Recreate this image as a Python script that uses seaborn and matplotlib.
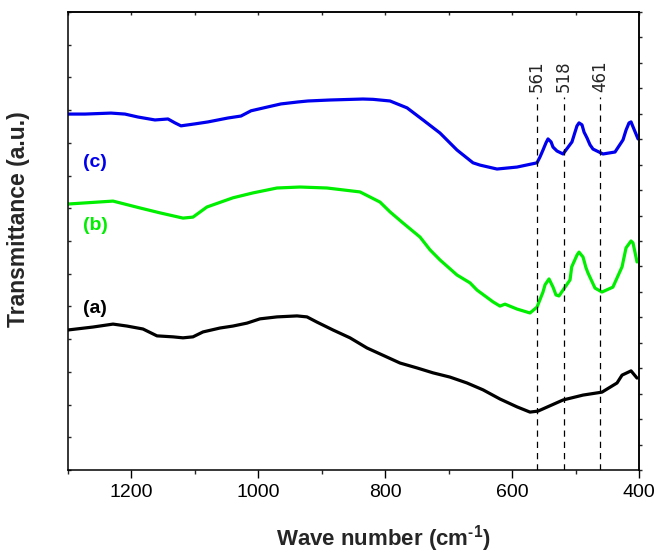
import numpy as np
import pandas as pd
import matplotlib
matplotlib.use("Agg")
import matplotlib.pyplot as plt
from matplotlib.ticker import MultipleLocator, NullFormatter
import seaborn as sns

# FTIR spectra (wave number in cm^-1, transmittance in arbitrary units, stacked)
wn_a = [1300, 1260.6, 1229, 1207, 1181.8, 1159.7, 1134.5, 1118.7, 1103, 1087.2,
        1060.4, 1040, 1017.8, 997.4, 970.6, 939, 923.3, 907.5, 882.3, 855.5,
        828.7, 776.7, 749.9, 724.7, 697.9, 671.1, 645.8, 619.1, 592.3, 571.8,
        559.2, 519.7, 488.2, 458.3, 434.6, 426.7, 412.5, 403.1]
t_a = [4.28, 4.37, 4.46, 4.40, 4.31, 4.10, 4.07, 4.04, 4.07, 4.22,
       4.34, 4.40, 4.49, 4.62, 4.68, 4.71, 4.68, 4.52, 4.28, 4.04,
       3.73, 3.27, 3.12, 2.97, 2.84, 2.66, 2.45, 2.17, 1.93, 1.77,
       1.80, 2.14, 2.29, 2.38, 2.66, 2.90, 3.03, 2.81]

wn_b = [1300, 1229, 1186.5, 1155, 1118.7, 1103, 1080.9, 1040, 1008.4, 970.6, 934.3,
        891.7, 839.7, 808.2, 792.4, 771.9, 745.1, 729.4, 713.6, 686.8, 666.3,
        655.3, 630.1, 619.1, 611.2, 592.3, 571.8, 560.7, 551.3, 548.1, 541.8,
        535.5, 530.8, 526.1, 508.7, 506, 497.7, 494.5, 488.2, 483.5, 480.3,
        469.3, 458.3, 441.1, 426.7, 420.4, 412.5, 409.4, 403.1]
t_b = [8.13, 8.22, 8.01, 7.86, 7.70, 7.73, 8.04, 8.32, 8.47, 8.62, 8.65,
       8.62, 8.50, 8.19, 7.89, 7.55, 7.12, 6.73, 6.42, 5.96, 5.72,
       5.50, 5.14, 5.01, 5.07, 4.92, 4.80, 4.98, 5.44, 5.66, 5.84,
       5.59, 5.35, 5.32, 5.81, 6.21, 6.57, 6.66, 6.51, 6.18, 6.02,
       5.56, 5.44, 5.59, 6.21, 6.79, 7.00, 6.94, 6.36]

wn_c = [1300, 1273.2, 1232.2, 1210.2, 1189.7, 1162.9, 1142.4, 1131.3, 1121.9, 1099.8,
        1079.3, 1047.8, 1027.3, 1011.5, 984.7, 964.3, 937.5, 921.7, 887, 835,
        819.2, 792.4, 765.6, 740.4, 713.6, 686.8, 661.6, 650.6, 623.8, 592.3,
        560.7, 556, 551.3, 546.6, 543.4, 538.6, 535.5, 529.2, 519.7, 505.6,
        500.8, 497.7, 494.5, 489.8, 486.6, 481.9, 477.2, 472.5, 456.7, 437.8,
        425.2, 420.4, 415.7, 412.5, 409.4, 401.5]
t_c = [10.88, 10.88, 10.91, 10.88, 10.79, 10.70, 10.73, 10.61, 10.52, 10.58,
       10.64, 10.76, 10.82, 10.98, 11.10, 11.19, 11.25, 11.28, 11.31, 11.34,
       11.33, 11.28, 11.07, 10.70, 10.30, 9.78, 9.39, 9.32, 9.20, 9.26,
       9.39, 9.57, 9.78, 10.00, 10.12, 10.03, 9.87, 9.75, 9.66, 10.03,
       10.33, 10.52, 10.61, 10.55, 10.33, 10.15, 9.94, 9.81, 9.66, 9.72,
       10.09, 10.39, 10.61, 10.64, 10.49, 10.12]

samples = ["(a)", "(b)", "(c)"]
colors = ["#000000", "#00ee00", "#0000ee"]
label_wn = [1257, 1257, 1257]
label_t = [4.95, 7.46, 9.39]

band_wn = [561, 518, 461]
band_labels = ["561", "518", "461"]

frames = []
for name, wn, t in zip(samples, [wn_a, wn_b, wn_c], [t_a, t_b, t_c]):
    frames.append(pd.DataFrame({"wn": wn, "T": t, "sample": name}))
df = pd.concat(frames, ignore_index=True)

sns.set_style("white")
plt.rcParams["font.family"] = ["Liberation Sans", "DejaVu Sans"]
plt.rcParams["mathtext.fontset"] = "custom"
plt.rcParams["mathtext.rm"] = "Liberation Sans:bold"
plt.rcParams["mathtext.bf"] = "Liberation Sans:bold"

fig = plt.figure(figsize=(6.58, 5.53), dpi=100)
ax = fig.add_axes([0.1033, 0.1501, 0.8678, 0.8282])

sns.lineplot(data=df, x="wn", y="T", hue="sample", hue_order=samples,
             palette=dict(zip(samples, colors)), estimator=None,
             linewidth=2.3, legend=False, ax=ax)

# marked absorption bands
top_line = 11.4
ax.vlines(band_wn, 0, top_line, colors="black", linewidth=0.9,
          linestyles=(0, (5, 4)))
for w, lab in zip(band_wn, band_labels):
    ax.text(w, top_line + 0.15, lab, rotation=90, ha="center", va="bottom",
            fontsize=12, family="DejaVu Sans")

for name, c, xw, yt in zip(samples, colors, label_wn, label_t):
    ax.text(xw, yt, name, color=c, fontsize=14, fontweight="bold",
            ha="center", va="center")

ax.set_xlim(1300, 400)
ax.set_ylim(0, 14)

# bottom axis: outward major/minor ticks with labels
ax.set_xticks([1200, 1000, 800, 600, 400])
ax.set_xticklabels(["1200", "1000", "800", "600", "400"])
ax.xaxis.set_minor_locator(MultipleLocator(100))
ax.tick_params(axis="x", which="major", direction="out", length=6, width=1,
               labelsize=14, pad=4, bottom=True, top=False, colors="black")
ax.tick_params(axis="x", which="minor", direction="out", length=3, width=1,
               bottom=True, top=False)

# left axis: inward ticks, no labels
ax.yaxis.set_major_locator(MultipleLocator(1))
ax.yaxis.set_major_formatter(NullFormatter())
ax.tick_params(axis="y", which="major", direction="in", length=2.5, width=1,
               left=True, right=False)

# top axis ticks
top = ax.secondary_xaxis("top")
top.xaxis.set_major_locator(MultipleLocator(100))
top.xaxis.set_major_formatter(NullFormatter())
top.tick_params(direction="in", length=2.5, width=1)

# right axis ticks on a finer grid
right = ax.secondary_yaxis("right", functions=(lambda y: y * 18 / 14,
                                               lambda y: y * 14 / 18))
right.yaxis.set_major_locator(MultipleLocator(1))
right.yaxis.set_major_formatter(NullFormatter())
right.tick_params(direction="out", length=2, width=1)

for sp in ax.spines.values():
    sp.set_visible(True)
    sp.set_linewidth(1.1)
    sp.set_color("black")
for sec in (top, right):
    for sp in sec.spines.values():
        sp.set_linewidth(1.1)
        sp.set_color("black")

ax.set_xlabel("Wave number (cm$^{\\text{-1}}$)", fontsize=16,
              fontweight="bold")
ax.set_ylabel("Transmittance (a.u.)", fontsize=16.5, fontweight="bold")
ax.xaxis.label.set_verticalalignment("center")
ax.yaxis.label.set_verticalalignment("center")
ax.xaxis.set_label_coords(0.553, -0.149)
ax.yaxis.set_label_coords(-0.086, 0.548)

fig.savefig("out.png", dpi=100)
